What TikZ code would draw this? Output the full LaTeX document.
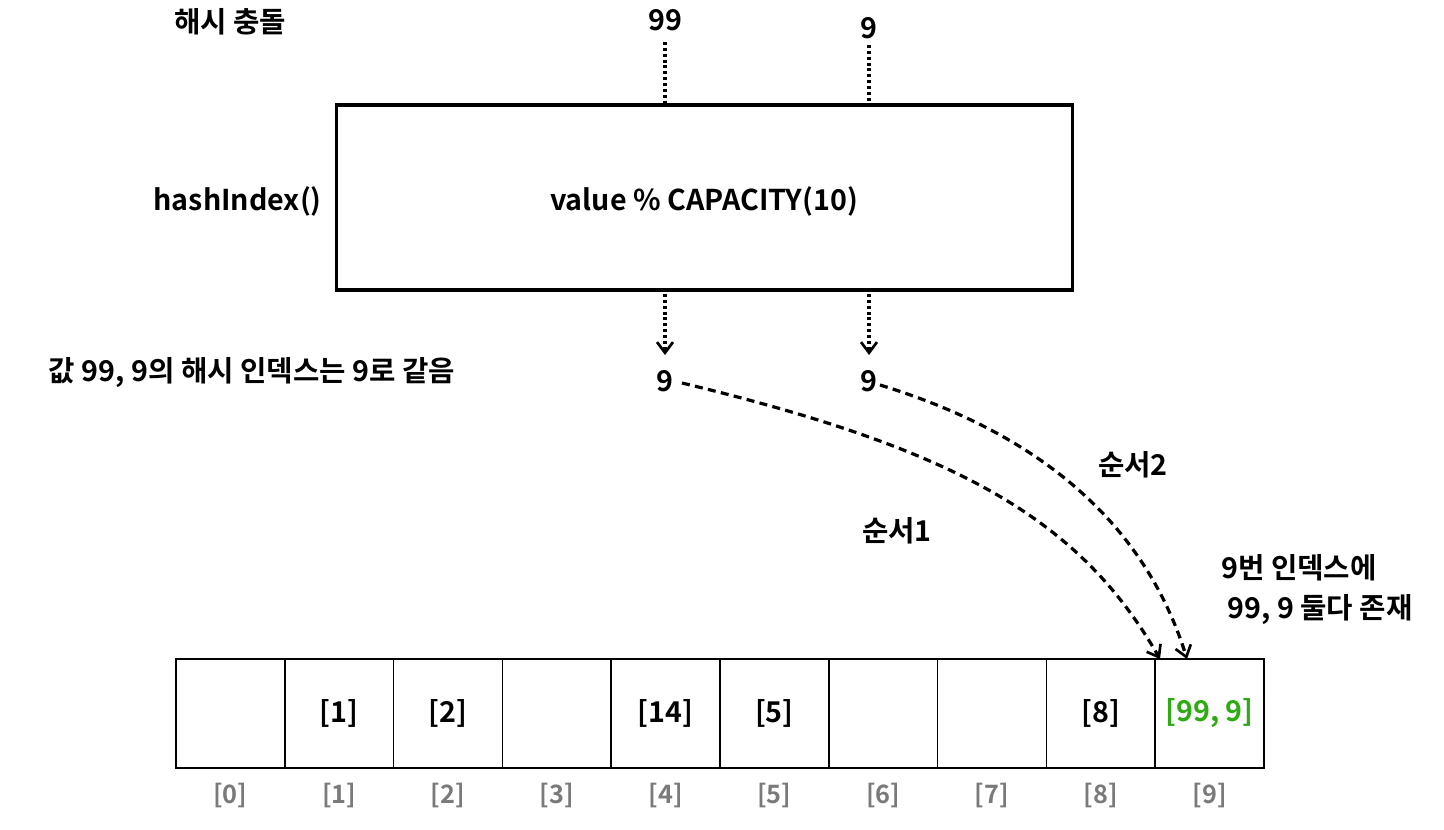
\documentclass[tikz,border=0pt]{standalone}
\usepackage{fontspec}
\setmainfont{Noto Sans CJK KR}[BoldFont={* Bold}]
\usetikzlibrary{arrows.meta}
\definecolor{grn}{HTML}{2EAA12}
\definecolor{gry}{HTML}{7A7A7A}
\begin{document}
\begin{tikzpicture}[x=0.75pt,y=-0.75pt,
  txt/.style={font=\bfseries\fontsize{21.5}{26}\selectfont,inner sep=0pt},
  idx/.style={font=\bfseries\fontsize{19}{22}\selectfont,text=gry,inner sep=0pt},
  cell/.style={draw,line width=1.2pt,minimum width=81.6pt,minimum height=81.75pt,inner sep=0pt},
  dots/.style={line width=2.6pt,dash pattern=on 2.2pt off 2.2pt},
  dsh/.style={line width=2.4pt,dash pattern=on 6pt off 4pt},
  tip/.style={-{Straight Barb[length=8pt,width=12pt,line width=2pt]}}]
\useasboundingbox (0,0) rectangle (1444,830);
\node[txt] (title) at (230,22) {해시 충돌};
\node[txt] (in99) at (665,20) {99};
\node[txt] (in9) at (869,28) {9};
\node[draw,line width=2.6pt,minimum width=552pt,minimum height=139pt] (box) at (704.5,197.5) {};
\node[txt] (fn) at (704,201) {value \% CAPACITY(10)};
\node[txt,anchor=east] (hl) at (322,201) {hashIndex()};
\coordinate (t1) at (665,103); \coordinate (t2) at (869,103);
\draw[dots] (665,42) -- (t1);
\draw[dots] (869,45) -- (t2);
\node[txt] (o1) at (665,381) {9};
\node[txt] (o2) at (869,381) {9};
\draw[dots,tip] (665,294) -- (665,355);
\draw[dots,tip] (869,294) -- (869,355);
\node[txt] (note) at (252,373) {값 99, 9의 해시 인덱스는 9로 같음};
\foreach \i in {0,...,9} {
  \node[cell] (c\i) at ({176+108.8*\i+54.4},713.5) {};
  \node[idx] (i\i) at ({176+108.8*\i+54.4},795) {[\i]};
}
\node[txt] at (c1) {[1]};
\node[txt] at (c2) {[2]};
\node[txt] at (c4) {[14]};
\node[txt] at (c5) {[5]};
\node[txt] at (c8) {[8]};
\node[txt,text=grn] at (c9) {[99, 9]};
\coordinate (e1) at (1160,659); \coordinate (e2) at (1187,659);
\draw[dsh,tip] (682,383) .. controls (960,450) and (1080,520) .. (e1);
\draw[dsh,tip] (880,385) .. controls (1060,440) and (1150,540) .. (e2);
\node[txt] (s1) at (897,531) {순서1};
\node[txt] (s2) at (1133,465) {순서2};
\node[txt] (r1) at (1299,568) {9번 인덱스에};
\node[txt] (r2) at (1320,610) {99, 9 둘다 존재};
\end{tikzpicture}
\end{document}
